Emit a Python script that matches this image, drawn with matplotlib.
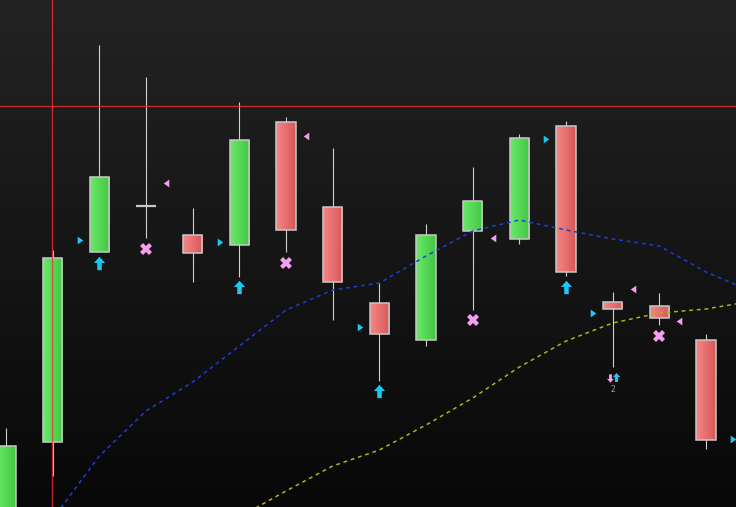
import numpy as np
import matplotlib
matplotlib.use("Agg")
import matplotlib.pyplot as plt
from matplotlib.colors import LinearSegmentedColormap
from matplotlib.patches import Rectangle
from matplotlib.path import Path

# ---------------- data ----------------
opens  = [97.4, 113.0, 151.0, 160.2, 154.4, 152.4, 177.0, 160.0, 140.8, 133.4, 155.2, 153.6, 176.2, 141.0, 140.2, 133.4]
highs  = [115.8, 151.4, 192.4, 186.0, 159.8, 181.0, 178.0, 171.8, 144.8, 156.6, 168.0, 174.6, 177.2, 143.0, 142.8, 134.6]
lows   = [95.4, 106.2, 151.0, 153.8, 145.0, 146.0, 151.0, 137.4, 125.2, 132.2, 139.4, 152.6, 146.2, 128.0, 136.4, 111.6]
closes = [112.2, 149.8, 166.0, 160.2, 150.8, 173.4, 155.4, 145.0, 134.6, 154.4, 161.2, 173.8, 147.0, 139.6, 137.8, 113.4]

blue_idx = [1, 2, 3, 4, 5, 6, 7, 8, 9, 10, 11, 12, 13, 14, 15, 16]
blue_val = [97.6, 110.2, 119.2, 125.0, 132.2, 139.4, 143.4, 144.8, 150.2, 155.2, 157.4, 155.4, 153.6, 152.2, 147.0, 143.0]

yellow_idx = [5, 6, 7, 8, 9, 10, 11, 12, 13, 14, 15, 16]
yellow_val = [98.0, 103.2, 108.2, 111.4, 116.4, 121.8, 128.0, 133.2, 136.8, 138.8, 139.6, 141.2]

buy_idx = [2, 5, 8, 12]
buy_price = [148.8, 144.0, 123.2, 144.0]
sell_idx = [3, 6, 10, 14]
sell_price = [151.7, 148.9, 137.4, 134.3]
entry_idx = [2, 5, 8, 12, 13, 16]
entry_price = [153.5, 153.0, 136.0, 173.6, 138.8, 113.6]
exit_idx = [3, 6, 10, 13, 14]
exit_price = [164.9, 174.2, 153.8, 143.6, 137.2]
mini_idx = 13
mini_down_price = 125.8
mini_up_price = 126.1
mini_label = "2"
mini_label_price = 123.6

cross_x = 0.985
cross_y = 180.2

# ---------------- figure ----------------
fig = plt.figure(figsize=(7.36, 5.07), dpi=100)
ax = fig.add_axes([0, 0, 1, 1])
ax.set_axis_off()
XMIN, XMAX = -0.1286, 15.642
YMIN, YMAX = 100.0, 201.4

# background gradient
bg = LinearSegmentedColormap.from_list("bg", ["#080808", "#232323"])
grad = np.linspace(0, 1, 256).reshape(-1, 1)
ax.imshow(grad, extent=(XMIN, XMAX, YMIN, YMAX), origin="lower", aspect="auto",
          cmap=bg, zorder=0, interpolation="bilinear")

green_cm = LinearSegmentedColormap.from_list("g", ["#6ae86a", "#42c742"])
red_cm = LinearSegmentedColormap.from_list("r", ["#f88686", "#d45858"])
hgrad = np.linspace(0, 1, 64).reshape(1, -1)

W = 0.41
for i, (o, h, l, c) in enumerate(zip(opens, highs, lows, closes)):
    ax.plot([i, i], [l, h], color="#cfcfcf", lw=0.8, zorder=1.5, solid_capstyle="butt")
    if abs(o - c) < 1e-9:
        ax.plot([i - W / 2, i + W / 2], [o, o], color="#c8c8c8", lw=1.6, zorder=3,
                solid_capstyle="butt")
        continue
    lo, hi = min(o, c), max(o, c)
    cm = green_cm if c > o else red_cm
    ax.imshow(hgrad, extent=(i - W / 2, i + W / 2, lo, hi), aspect="auto", cmap=cm,
              zorder=2, interpolation="bilinear")
    ax.add_patch(Rectangle((i - W / 2, lo), W, hi - lo, fill=False, ec="#c8c8c8",
                           lw=1.1, zorder=3))

# moving averages
ax.plot(blue_idx, blue_val, color="#1b3fd0", lw=1.1, ls=(0, (2.5, 2.5)), zorder=4)
ax.plot(yellow_idx, yellow_val, color="#b0b020", lw=1.1, ls=(0, (2.5, 2.5)), zorder=4)

# crosshair
ax.axvline(cross_x, color="#ff2e2e", alpha=0.75, lw=1.0, zorder=5, snap=True)
ax.axhline(cross_y, color="#ff2e2e", alpha=0.75, lw=1.0, zorder=5, snap=True)

# markers
MV = Path.MOVETO; LT = Path.LINETO; CP = Path.CLOSEPOLY
up_v = [(0, 0.5), (0.42, 0.04), (0.17, 0.04), (0.17, -0.5), (-0.17, -0.5), (-0.17, 0.04), (-0.42, 0.04), (0, 0.5)]
codes = [MV] + [LT] * 6 + [CP]
arrow_up = Path(up_v, codes)
arrow_down = Path([(x, -y) for x, y in up_v], codes)
tri_r = Path([(-0.36, 0.5), (0.36, 0.0), (-0.36, -0.5), (-0.36, 0.5)], [MV, LT, LT, CP])
tri_l = Path([(0.36, 0.5), (-0.36, 0.0), (0.36, -0.5), (0.36, 0.5)], [MV, LT, LT, CP])

CYAN = "#1ec6f4"
PINK = "#f59df0"
OFF = 0.425

ax.plot(buy_idx, buy_price, ls="none", marker=arrow_up, ms=9.6, color=CYAN, mew=0, zorder=6)
ax.plot(sell_idx, sell_price, ls="none", marker="X", ms=9.0, color=PINK, mew=0, zorder=6)
ax.plot(np.array(entry_idx) - OFF, entry_price, ls="none", marker=tri_r, ms=5.6, color=CYAN, mew=0, zorder=6)
ax.plot(np.array(exit_idx) + OFF, exit_price, ls="none", marker=tri_l, ms=5.6, color=PINK, mew=0, zorder=6)
ax.plot([mini_idx - 0.065], [mini_down_price], ls="none", marker=arrow_down, ms=6.0, color=PINK, mew=0, zorder=6)
ax.plot([mini_idx + 0.075], [mini_up_price], ls="none", marker=arrow_up, ms=6.5, color=CYAN, mew=0, zorder=6)
ax.text(mini_idx, mini_label_price, mini_label, color="#a0a0a0", fontsize=5.5,
        ha="center", va="center", zorder=6)

ax.set_xlim(XMIN, XMAX)
ax.set_ylim(YMIN, YMAX)
fig.savefig("out.png", dpi=100, facecolor="#111111")
